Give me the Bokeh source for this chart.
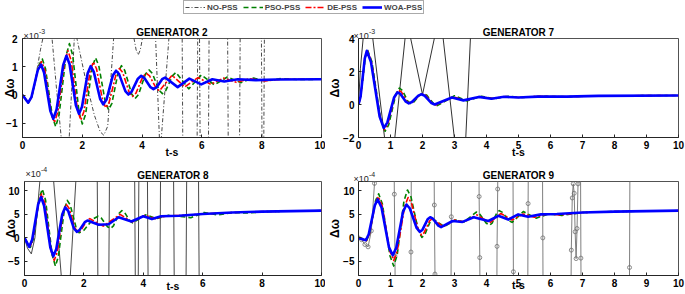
from bokeh.plotting import figure
from bokeh.models import (Range1d, FixedTicker, Label, Legend, LegendItem, GridBox)
from bokeh.layouts import column, row
from bokeh.embed import file_html
from bokeh.resources import INLINE

FONT = "Liberation Sans"

# ---------------- data ----------------
# Generator 2 (x1e-3)
g2_blue_t = [0, 0.19, 0.30, 0.51, 0.62, 0.72, 0.93, 1.03, 1.14, 1.36, 1.47, 1.575, 1.785, 1.89, 1.99, 2.18, 2.28, 2.385, 2.595, 2.70,
             2.81, 3.02, 3.13, 3.23, 3.44, 3.54, 3.65, 3.86, 3.97, 4.07, 4.28, 4.38, 4.48, 4.67, 4.77, 5.19, 5.58, 5.98, 6.35,
             6.75, 7.2, 7.8, 8.5, 10]
g2_blue_v = [0, -0.27, -0.07, 0.88, 1.08, 0.80, -0.56, -0.84, -0.51, 1.06, 1.39, 1.09, -0.36, -0.66, -0.41, 0.77, 1.02, 0.82, -0.13,
             -0.33, -0.16, 0.69, 0.86, 0.74, 0.14, 0.02, 0.12, 0.58, 0.68, 0.61, 0.28, 0.21, 0.27, 0.56, 0.62, 0.28, 0.58, 0.38,
             0.56, 0.48, 0.56, 0.53, 0.55, 0.56]
g2_red_t = [0, 0.2, 0.31, 0.53, 0.64, 0.75, 0.96, 1.07, 1.18, 1.41, 1.52, 1.63, 1.84, 1.95, 2.055, 2.265, 2.37, 2.475, 2.685, 2.79,
            2.90, 3.13, 3.24, 3.35, 3.57, 3.68, 3.795, 4.025, 4.14, 4.25, 4.47, 4.58, 5.0, 5.43, 5.87, 6.3, 6.72, 7.15, 7.6,
            8.1, 8.7, 10]
g2_red_v = [0, -0.27, -0.06, 0.97, 1.18, 0.87, -0.66, -0.97, -0.60, 1.20, 1.57, 1.21, -0.52, -0.88, -0.58, 0.87, 1.17, 0.93, -0.21,
            -0.45, -0.25, 0.74, 0.94, 0.80, 0.09, -0.05, 0.07, 0.65, 0.77, 0.68, 0.24, 0.15, 0.70, 0.29, 0.62, 0.38, 0.60, 0.45,
            0.58, 0.50, 0.56, 0.56]
g2_green_t = [0, 0.2, 0.315, 0.545, 0.66, 0.77, 1.0, 1.11, 1.225, 1.455, 1.57, 1.68, 1.89, 2.0, 2.11, 2.33, 2.44, 2.55, 2.77, 2.88,
              2.99, 3.20, 3.31, 3.42, 3.65, 3.76, 3.88, 4.11, 4.23, 4.34, 4.57, 4.68, 4.79, 5.02, 5.13, 5.56, 5.98, 6.42, 6.85,
              7.3, 7.72, 8.15, 8.6, 9.2, 10]
g2_green_v = [0, -0.27, -0.04, 1.05, 1.28, 0.93, -0.77, -1.12, -0.69, 1.39, 1.82, 1.40, -0.60, -1.02, -0.68, 0.98, 1.32, 1.05,
              -0.25, -0.52, -0.29, 0.81, 1.04, 0.87, 0.04, -0.13, 0.02, 0.74, 0.89, 0.77, 0.17, 0.05, 0.16, 0.69, 0.80, 0.22,
              0.71, 0.36, 0.64, 0.44, 0.60, 0.50, 0.58, 0.55, 0.56]
g2_black_t = [0, 0.1, 0.2, 0.35, 0.5, 0.6, 0.7, 0.84, 0.98, 1.14, 1.30, 1.43, 1.56, 1.73, 1.78, 1.83, 2.1, 2.4, 2.6, 2.72, 2.85, 3.05,
              3.3, 3.55, 3.72, 3.8, 3.87, 3.94, 4.02, 4.2, 4.45, 4.58, 4.61, 4.64, 4.9, 5.1, 5.34, 5.36, 5.6, 5.84, 5.86, 5.89,
              5.92, 5.94, 6.08, 6.22, 6.24, 6.55, 6.86, 6.88, 7.07, 7.26, 7.28, 7.6, 7.99, 8.01, 8.04, 8.07, 8.09, 8.5, 10]
g2_black_v = [0, -0.2, -0.28, 0.1, 1.0, 1.6, 2.1, 3.0, 2.1, 0.2, -1.55, -2.6, -1.55, 1.95, 2.2, 1.95, 0.6, -0.7, -1.3, -1.42, -1.1, 2.05,
              3.5, 3.0, 2.05, 1.6, 1.42, 1.6, 2.05, 3.5, 2.05, -1.55, -1.8, -1.55, 2.05, 4.0, 2.1, -1.6, -4.0, -1.6, 2.1, 2.5,
              2.1, -1.6, -4.0, -1.6, 2.1, 5.0, 2.1, -1.6, -4.0, -1.6, 2.1, 5.0, 2.1, -1.6, -2.0, -1.6, 2.1, 5.0, 8.0]

# Generator 7 (x1e-3)
g7_blue_t = [0, 0.065, 0.195, 0.26, 0.39, 0.66, 0.79, 0.90, 1.11, 1.22, 1.31, 1.48, 1.57, 1.67, 1.87, 1.97, 2.07, 2.28, 2.38, 2.92,
             3.28, 3.76, 4.15, 4.55, 5.0, 5.6, 6.5, 7.5, 10]
g7_blue_v = [0, 0.48, 2.78, 3.26, 2.57, -0.73, -1.42, -1.10, 0.42, 0.74, 0.64, 0.17, 0.07, 0.15, 0.54, 0.62, 0.53, 0.09, 0.0, 0.42,
             0.25, 0.46, 0.35, 0.47, 0.42, 0.48, 0.48, 0.52, 0.55]
g7_red_t = [0, 0.0675, 0.2025, 0.27, 0.405, 0.675, 0.81, 0.92, 1.14, 1.25, 1.34, 1.51, 1.6, 1.7, 1.9, 2.0, 2.105, 2.315, 2.42, 2.97,
            3.33, 3.8, 4.2, 4.6, 5.05, 5.6, 6.5, 7.5, 10]
g7_red_v = [0, 0.48, 2.82, 3.3, 2.59, -0.81, -1.52, -1.17, 0.53, 0.88, 0.76, 0.19, 0.07, 0.16, 0.56, 0.64, 0.54, 0.07, -0.03, 0.47,
            0.24, 0.47, 0.36, 0.48, 0.42, 0.5, 0.47, 0.52, 0.55]
g7_green_t = [0, 0.07, 0.21, 0.28, 0.4175, 0.6925, 0.83, 0.9425, 1.1675, 1.28, 1.37, 1.54, 1.63, 1.73, 1.92, 2.02, 2.13, 2.35, 2.46,
              3.0, 3.38, 3.85, 4.25, 4.68, 5.15, 5.7, 6.5, 7.5, 10]
g7_green_v = [0, 0.49, 2.83, 3.32, 2.60, -0.90, -1.62, -1.24, 0.62, 1.0, 0.86, 0.20, 0.06, 0.15, 0.59, 0.68, 0.57, 0.04, -0.07,
              0.53, 0.22, 0.5, 0.35, 0.5, 0.42, 0.5, 0.47, 0.52, 0.55]
g7_black_t = [0, 0.06, 0.15, 0.3, 0.44, 0.82, 0.97, 1.13, 1.46, 1.54, 1.62, 2.0, 2.38, 2.5, 2.64, 3.0, 3.17, 3.35, 3.5, 3.7]
g7_black_v = [0, 2.2, 4.1, 5.5, 4.1, -2.1, -3.5, -2.1, 4.1, 5.0, 4.1, 0.6, 4.1, 5.0, 4.1, -2.1, -3.0, -2.1, 4.1, 7.0]

# Generator 8 (x1e-4)
g8_blue_t = [0, 0.16, 0.26, 0.46, 0.56, 0.66, 0.87, 0.97, 1.07, 1.27, 1.37, 1.47, 1.66, 1.76, 1.85, 2.03, 2.12, 2.5, 2.83, 3.17,
             3.6, 4.0, 4.29, 4.6, 5.2, 6.0, 7.0, 8.0, 10]
g8_blue_v = [0, -1.9, -0.35, 7.15, 8.7, 6.85, -2.05, -3.9, -2.38, 4.98, 6.5, 5.74, 2.06, 1.3, 1.65, 3.35, 3.7, 2.8, 2.9, 4.4,
             3.5, 4.6, 4.0, 4.6, 4.7, 5.1, 5.4, 5.6, 5.8]
g8_red_t = [0, 0.18, 0.28, 0.48, 0.58, 0.685, 0.895, 1.0, 1.1, 1.3, 1.4, 1.5, 1.7, 1.8, 1.9, 2.1, 2.2, 2.65, 3.22, 3.62, 4.05,
            4.4, 4.8, 5.4, 6.0, 7.0, 8.0, 10]
g8_red_v = [0, -2.0, -0.33, 7.73, 9.4, 7.32, -2.72, -4.8, -3.04, 5.44, 7.2, 6.32, 2.08, 1.2, 1.63, 3.68, 4.1, 2.5, 5.0, 3.4, 4.8,
            4.1, 4.7, 4.8, 5.1, 5.4, 5.6, 5.8]
g8_green_t = [0, 0.2, 0.3, 0.5, 0.6, 0.71, 0.93, 1.04, 1.14, 1.34, 1.44, 1.54, 1.74, 1.84, 2.0, 2.32, 2.48, 2.585, 2.795, 2.9,
              2.995, 3.185, 3.28, 3.37, 3.55, 3.64, 4.08, 4.45, 4.85, 5.2, 5.6, 6.05, 6.5, 7.0, 7.5, 8.2, 10]
g8_green_v = [0, -2.0, -0.18, 8.58, 10.4, 8.0, -3.60, -6.0, -3.95, 5.95, 8.0, 6.99, 2.11, 1.1, 1.61, 4.09, 4.6, 4.22, 2.38, 2.0,
              2.56, 5.24, 5.8, 5.42, 3.58, 3.2, 4.9, 4.1, 4.8, 4.6, 4.3, 5.4, 4.9, 5.4, 5.3, 5.6, 5.8]
g8_black_t = [0, 0.1, 0.23, 0.35, 0.52, 0.75, 0.98, 1.24, 1.4, 1.54, 1.73, 2.1, 2.45, 2.47, 2.65, 2.84, 2.86, 3.3, 3.71, 3.73,
              3.78, 3.83, 3.85, 4.0, 4.14, 4.16, 4.35, 4.56, 4.58, 4.8, 5.02, 5.04, 5.25, 5.44, 5.46, 5.65, 5.86, 5.88, 6.1]
g8_black_v = [0, -2.2, -3.4, 0, 12.2, 20, 12.2, -8.2, -12, -8.2, 12.2, 25, 12.2, -8.2, -20, -8.2, 12.2, 25, 12.2, -8.2,
              -10, -8.2, 12.2, 20, 12.2, -8.2, -20, -8.2, 12.2, 25, 12.2, -8.2, -20, -8.2, 12.2, 25, 12.2, -8.2, -25]

# Generator 9 (x1e-4)
g9_blue_t = [0, 0.23, 0.32, 0.51, 0.6, 0.72, 0.95, 1.07, 1.18, 1.39, 1.5, 1.605, 1.815, 1.92, 2.0, 2.16, 2.24, 2.325, 2.495, 2.58,
             2.94, 3.25, 3.6, 4.06, 4.37, 4.68, 4.99, 5.3, 5.7, 6.2, 7.0, 8.0, 10]
g9_blue_v = [0, -0.5, 0.77, 6.93, 8.2, 6.46, -1.96, -3.7, -2.12, 5.52, 7.1, 6.25, 2.15, 1.3, 1.75, 3.95, 4.4, 4.09, 2.61, 2.3,
             3.6, 3.4, 4.4, 3.6, 4.7, 3.9, 5.0, 4.5, 5.0, 5.1, 5.4, 5.6, 5.8]
g9_red_t = [0, 0.25, 0.34, 0.53, 0.62, 0.74, 0.98, 1.1, 1.21, 1.44, 1.55, 1.655, 1.865, 1.97, 2.05, 2.22, 2.3, 2.65, 3.0, 3.3,
            3.7, 4.1, 4.45, 4.8, 5.15, 5.5, 5.9, 6.3, 7.0, 8.0, 10]
g9_red_v = [0, -0.6, 0.78, 7.42, 8.8, 6.81, -2.81, -4.8, -2.84, 6.64, 8.6, 7.43, 1.77, 0.6, 1.11, 3.59, 4.1, 2.4, 3.8, 3.4,
            4.9, 3.2, 5.2, 3.8, 5.1, 4.4, 5.1, 4.9, 5.4, 5.6, 5.8]
g9_green_t = [0, 0.25, 0.345, 0.535, 0.63, 0.75, 0.98, 1.1, 1.21, 1.42, 1.53, 1.64, 1.87, 1.98, 2.07, 2.24, 2.33, 2.68, 3.02, 3.3,
              3.68, 3.785, 3.995, 4.1, 4.175, 4.325, 4.4, 4.5, 4.7, 4.8, 5.15, 5.55, 5.95, 6.35, 7.0, 8.0, 10]
g9_green_v = [0, -0.6, 0.87, 7.94, 9.4, 7.14, -3.74, -6.0, -3.63, 7.83, 10.2, 8.72, 1.58, 0.1, 0.67, 3.43, 4.0, 2.4, 3.8, 3.4,
              5.5, 5.09, 3.11, 2.7, 3.15, 5.35, 5.8, 5.43, 3.67, 3.3, 5.6, 4.2, 5.1, 4.8, 5.4, 5.6, 5.8]
g9_black_t = [0, 0.1, 0.2, 0.3, 0.4, 0.5, 0.52, 1.10, 1.12, 1.14, 1.16, 1.62, 1.64, 1.66, 2.35, 2.37, 2.39, 2.41, 2.88, 2.90, 2.92,
              3.75, 3.77, 3.79, 3.81, 4.31, 4.33, 4.35, 4.37, 4.82, 4.84, 4.86, 5.28, 5.30, 5.32, 5.74, 5.76, 5.78,
              6.62, 6.65, 6.68, 6.71, 6.74, 6.77, 6.80, 6.83, 6.86, 6.88, 6.93, 6.95, 6.97, 8.45, 8.47, 8.49]
g9_black_v = [0, -0.4, -1.4, -1.9, 1.5, 11.6, 30, 30, 9.3, -3.9, -30, -30, -3.0, 30, 30, 7.0, -7.7, -30, -30, 4.5, 30,
              30, 8.8, -4.2, -30, -30, -1.8, 10.4, 30, 30, -7.2, -30, -30, 7.3, 30, 30, 0.0, -30,
              -30, -2.6, 8.5, 11.5, 9.5, 1.3, -4.4, 2.0, 11.5, 30, 30, -4.3, -30, -30, -6.3, 30]

series_names = ["NO-PSS", "PSO-PSS", "DE-PSS", "WOA-PSS"]
titles = ["GENERATOR 2", "GENERATOR 7", "GENERATOR 8", "GENERATOR 9"]
exponents = ["-3", "-3", "-4", "-4"]
x_ticks_even = [0, 2, 4, 6, 8, 10]
x_ticks_all = [0, 1, 2, 3, 4, 5, 6, 7, 8, 9, 10]
y_ticks_g2 = [-1, 0, 1, 2]
y_ticks_g7 = [-2, 0, 2, 4]
y_ticks_g89 = [-5, 0, 5, 10]

BLUE = "#0000ff"
RED = "#ff0000"
GREEN = "#008000"
BLACK = "#1a1a1a"
AX = "#262626"


def panel(width, height, left, right, top, bottom, yr, xticks, yticks, title,
          ylab_stand, xlab_stand, ystand):
    p = figure(width=width, height=height, x_range=Range1d(0, 10), y_range=Range1d(*yr),
               output_backend="svg", toolbar_location=None, title=title,
               min_border_left=left, min_border_right=right, min_border_top=top,
               min_border_bottom=bottom)
    p.title.align = "center"
    p.title.text_font = FONT
    p.title.text_font_style = "bold"
    p.title.text_font_size = "10px"
    p.title.text_color = "black"
    p.title.standoff = 1
    p.title.offset = 0
    p.xgrid.visible = False
    p.ygrid.visible = False
    p.outline_line_color = AX
    p.outline_line_width = 0.8
    p.background_fill_color = "white"
    p.border_fill_color = "white"
    p.xaxis.ticker = FixedTicker(ticks=xticks)
    p.yaxis.ticker = FixedTicker(ticks=yticks)
    for ax in (p.xaxis[0], p.yaxis[0]):
        ax.axis_line_color = AX
        ax.major_tick_line_color = AX
        ax.major_tick_in = 3
        ax.major_tick_out = 0
        ax.minor_tick_line_color = None
        ax.major_label_text_font = FONT
        ax.major_label_text_font_style = "bold"
        ax.major_label_text_font_size = "10px"
        ax.major_label_text_color = "black"
        ax.axis_label_text_font = FONT
        ax.axis_label_text_font_style = "bold"
        ax.axis_label_text_color = "black"
    p.xaxis.major_label_standoff = 3
    p.yaxis.major_label_standoff = ystand
    p.xaxis.axis_label = "t-s"
    p.xaxis.axis_label_text_font_size = "10.5px"
    p.xaxis.axis_label_standoff = xlab_stand
    p.yaxis.axis_label = "Δω"
    p.yaxis.axis_label_text_font_size = "12px"
    p.yaxis.axis_label_standoff = ylab_stand
    return p


def curve(p, t, v, color, width, dash="solid"):
    p.line(t, v, line_color=color, line_width=width, line_dash=dash, line_join="round")


g2 = panel(325, 144, 22, 4, 22, 23, (-1.5, 2), x_ticks_even, y_ticks_g2, titles[0], -14, -6, 5)
curve(g2, g2_black_t, g2_black_v, BLACK, 0.8, "4 2 1 2")
curve(g2, g2_green_t, g2_green_v, GREEN, 1.6, "5 3")
curve(g2, g2_red_t, g2_red_v, RED, 1.6, "6 2 2 2")
curve(g2, g2_blue_t, g2_blue_v, BLUE, 2.6)

g7 = panel(360, 144, 27, 7, 21, 23, (-2, 4), x_ticks_all, y_ticks_g7, titles[1], -2, -6, 4)
curve(g7, g7_black_t, g7_black_v, BLACK, 0.9)
curve(g7, g7_green_t, g7_green_v, GREEN, 1.6, "5 3")
curve(g7, g7_red_t, g7_red_v, RED, 1.6, "6 2 2 2")
curve(g7, g7_blue_t, g7_blue_v, BLUE, 2.6)

g8 = panel(325, 134, 24, 4, 17, 17, (-8, 12), x_ticks_even, y_ticks_g89, titles[2], -13, -10, 5)
curve(g8, g8_black_t, g8_black_v, "#333333", 0.9)
curve(g8, g8_green_t, g8_green_v, GREEN, 1.6, "5 3")
curve(g8, g8_red_t, g8_red_v, RED, 1.6, "6 2 2 2")
curve(g8, g8_blue_t, g8_blue_v, BLUE, 2.6)

g9 = panel(360, 134, 27, 7, 21, 14, (-8, 12), x_ticks_all, y_ticks_g89, titles[3], -2, -11, 4)
curve(g9, g9_black_t, g9_black_v, "#707070", 0.9)
g9.scatter(g9_black_t, g9_black_v, marker="circle", size=4, fill_color=None, line_color="#707070", line_width=0.8)
curve(g9, g9_green_t, g9_green_v, GREEN, 1.6, "5 3")
curve(g9, g9_red_t, g9_red_v, RED, 1.6, "6 2 2 2")
curve(g9, g9_blue_t, g9_blue_v, BLUE, 2.6)

# legend strip
leg = figure(width=685, height=16, x_range=Range1d(0, 1), y_range=Range1d(0, 1),
             output_backend="svg", toolbar_location=None, min_border=0)
leg.axis.visible = False
leg.xgrid.visible = False
leg.ygrid.visible = False
leg.outline_line_color = None
dummy_x = [-2, -1]
dummy_y = [-2, -2]
r_black = leg.line(dummy_x, dummy_y, line_color=BLACK, line_width=0.8, line_dash="4 2 1 2")
r_green = leg.line(dummy_x, dummy_y, line_color=GREEN, line_width=1.6, line_dash="5 3")
r_red = leg.line(dummy_x, dummy_y, line_color=RED, line_width=1.6, line_dash="6 2 2 2")
r_blue = leg.line(dummy_x, dummy_y, line_color=BLUE, line_width=2.6)
legend = Legend(items=[LegendItem(label=series_names[0], renderers=[r_black]),
                       LegendItem(label=series_names[1], renderers=[r_green]),
                       LegendItem(label=series_names[2], renderers=[r_red]),
                       LegendItem(label=series_names[3], renderers=[r_blue])],
                orientation="horizontal", location=(183, 2), margin=0, padding=1,
                spacing=5, glyph_width=20, glyph_height=10, label_height=10,
                label_standoff=2, label_text_font=FONT, label_text_font_style="bold",
                label_text_font_size="8px", border_line_color="#555555",
                border_line_width=0.8, background_fill_color="white")
leg.add_layout(legend, "center")

main = column(leg, row(g2, g7), row(g8, g9))

# transparent overlay (page pixel coordinates) for the axis multipliers
ov = figure(width=685, height=294, x_range=Range1d(0, 685), y_range=Range1d(294, 0),
            output_backend="svg", toolbar_location=None, min_border=0,
            background_fill_color=None, border_fill_color=None, outline_line_color=None)
ov.axis.visible = False
ov.xgrid.visible = False
ov.ygrid.visible = False
mult_pos = [(23, 35), (353, 35), (25, 173.5), (353, 178.5)]
for (mx, my), ex in zip(mult_pos, exponents):
    ov.add_layout(Label(x=mx, y=my, text="×10", text_font=FONT, text_font_size="9px",
                        text_color=AX, text_baseline="alphabetic"))
    ov.add_layout(Label(x=mx + 15.5, y=my - 4.5, text=ex, text_font=FONT, text_font_size="7px",
                        text_color=AX, text_baseline="alphabetic"))

layout = GridBox(children=[(main, 0, 0), (ov, 0, 0)])
open("out.html", "w").write(file_html(layout, INLINE))
